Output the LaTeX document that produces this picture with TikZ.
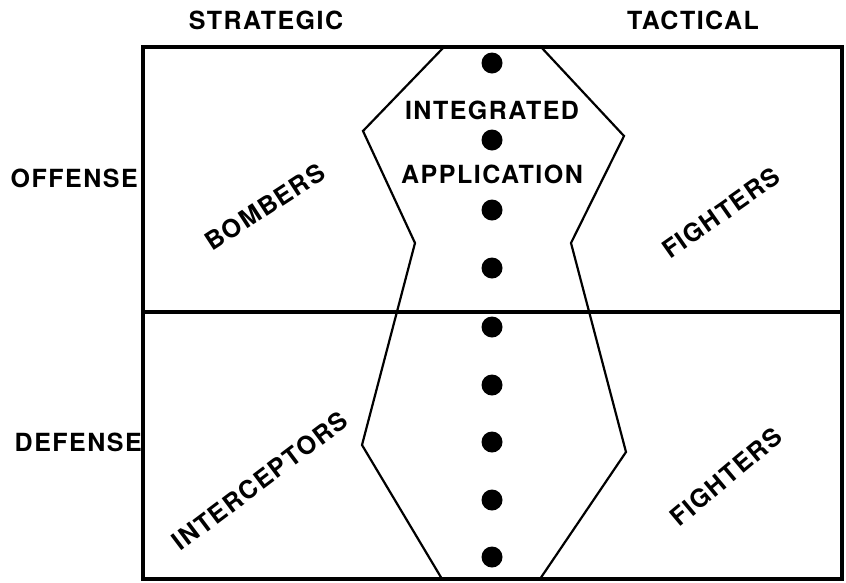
\documentclass[tikz,border=0pt]{standalone}
\usepackage{fontspec}
\setmainfont{TeX Gyre Heros}[LetterSpace=6.0]
\begin{document}
\begin{tikzpicture}[x=1pt,y=-1pt,
  lbl/.style={font=\bfseries\fontsize{25}{30}\selectfont, inner sep=0pt},
  dot/.style={circle, fill=black, minimum size=21pt, inner sep=0pt},
  frame/.style={line width=3.5pt, line cap=rect},
  outline/.style={line width=2.2pt, line join=miter}]
\useasboundingbox (0,0) rectangle (846,582);
% frame
\coordinate (TL) at (143,47);
\coordinate (BR) at (842,579);
\draw[frame] (TL) rectangle (BR);
\coordinate (ML) at (143,312);
\coordinate (MR) at (842,312);
\draw[frame] (ML) -- (MR);
% central region
\coordinate (p1) at (444,47);
\coordinate (p2) at (363,131);
\coordinate (p3) at (415,243);
\coordinate (p4) at (362,445);
\coordinate (p5) at (442,579);
\coordinate (q1) at (541,47);
\coordinate (q2) at (624,136);
\coordinate (q3) at (571,243);
\coordinate (q4) at (626,452);
\coordinate (q5) at (540,579);
\draw[outline] (p1) -- (p2) -- (p3) -- (p4) -- (p5);
\draw[outline] (q1) -- (q2) -- (q3) -- (q4) -- (q5);
% dots
\foreach \i/\y in {1/63,2/140,3/210,4/268,5/327,6/385,7/442,8/500,9/557}
  \node[dot] (d\i) at (492,\y) {};
% labels
\node[lbl] (strat) at (266,20) {STRATEGIC};
\node[lbl] (tact) at (693,20) {TACTICAL};
\node[lbl, anchor=east] (off) at (138,178) {OFFENSE};
\node[lbl, anchor=east] (def) at (142,442) {DEFENSE};
\node[lbl] (integ) at (492,110) {INTEGRATED};
\node[lbl] (appl) at (492,174) {APPLICATION};
\node[lbl, rotate=33] (bomb) at (265,207) {BOMBERS};
\node[lbl, rotate=35] (fig1) at (721,213) {FIGHTERS};
\node[lbl, rotate=37] (inter) at (260,481) {INTERCEPTORS};
\node[lbl, rotate=40] (fig2) at (726,477) {FIGHTERS};
\end{tikzpicture}
\end{document}
